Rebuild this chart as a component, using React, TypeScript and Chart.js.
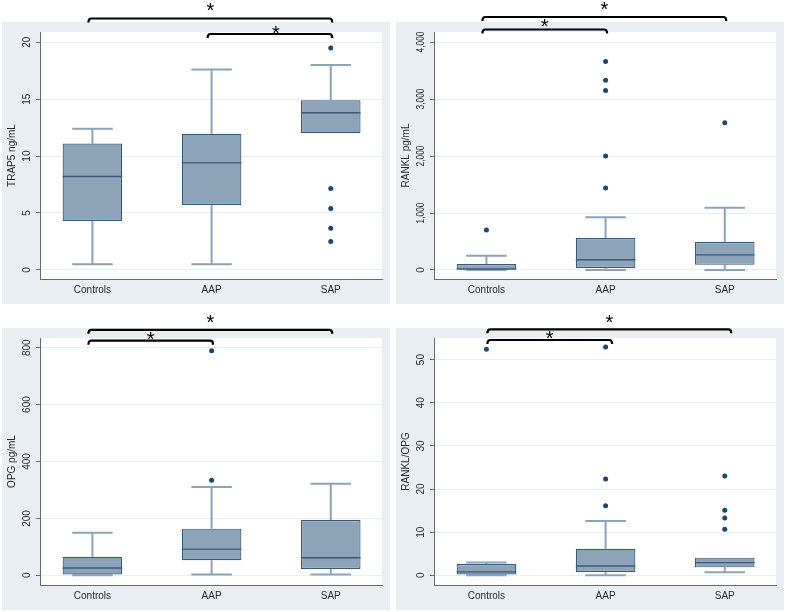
import React, { useEffect, useRef } from 'react';
import { Chart, registerables } from 'chart.js';

Chart.register(...registerables);

// ---------- data ----------
const CATEGORIES = ['Controls', 'AAP', 'SAP'];

// TRAP5 ng/mL
const TRAP5_LOW = [0.5, 0.5, 12.0];
const TRAP5_Q1 = [4.3, 5.7, 12.0];
const TRAP5_MEDIAN = [8.2, 9.4, 13.8];
const TRAP5_Q3 = [11.1, 11.95, 14.9];
const TRAP5_HIGH = [12.4, 17.6, 18.0];
const TRAP5_OUTLIERS = [[], [], [19.5, 7.15, 5.4, 3.65, 2.5]];
const TRAP5_TICKS = [0, 5, 10, 15, 20];
const TRAP5_TICK_LABELS = ['0', '5', '10', '15', '20'];

// RANKL pg/mL
const RANKL_LOW = [0, 0, 0];
const RANKL_Q1 = [5, 35, 90];
const RANKL_MEDIAN = [20, 180, 265];
const RANKL_Q3 = [105, 560, 490];
const RANKL_HIGH = [250, 925, 1090];
const RANKL_OUTLIERS = [[700], [3660, 3330, 3150, 2000, 1440], [2585]];
const RANKL_TICKS = [0, 1000, 2000, 3000, 4000];
const RANKL_TICK_LABELS = ['0', '1,000', '2,000', '3,000', '4,000'];

// OPG pg/mL
const OPG_LOW = [0, 3, 3];
const OPG_Q1 = [3, 53, 22];
const OPG_MEDIAN = [26, 92, 62];
const OPG_Q3 = [65, 164, 194];
const OPG_HIGH = [150, 310, 322];
const OPG_OUTLIERS = [[], [789, 334], []];
const OPG_TICKS = [0, 200, 400, 600, 800];
const OPG_TICK_LABELS = ['0', '200', '400', '600', '800'];

// RANKL/OPG
const RATIO_LOW = [0, 0, 0.7];
const RATIO_Q1 = [0.2, 0.8, 1.85];
const RATIO_MEDIAN = [0.8, 2.15, 2.95];
const RATIO_Q3 = [2.6, 6.15, 4.1];
const RATIO_HIGH = [3.0, 12.6, 4.1];
const RATIO_OUTLIERS = [[52.4], [52.9, 22.3, 16.1], [23.0, 15.1, 13.3, 10.7]];
const RATIO_TICKS = [0, 10, 20, 30, 40, 50];
const RATIO_TICK_LABELS = ['0', '10', '20', '30', '40', '50'];

// significance pairs (category indices)
const TRAP5_SIG = [[0, 2], [1, 2]];
const RANKL_SIG = [[0, 2], [0, 1]];
const OPG_SIG = [[0, 2], [0, 1]];
const RATIO_SIG = [[0, 2], [0, 1]];

// ---------- styles ----------
const FONT = "'Liberation Sans', Arial, Helvetica, sans-serif";
const TEXT = '#2a2a2a';
const BG = '#e8eef2';
const GRID = '#e8eff2';
const AXIS = '#6a6a6a';
const BOX_FILL = '#8ca3b8';
const BOX_EDGE = '#3a5a7c';
const WHISKER = '#8ca3b8';
const DOT = '#1d4670';

type PanelDef = {
  title: string;
  low: number[]; q1: number[]; med: number[]; q3: number[]; high: number[];
  outliers: number[][];
  ticks: number[]; tickLabels: string[];
  yMin: number; yMax: number;
  sig: number[][];
  // layout of the bracket annotations: [lineY, starY, starDx]
  bracketLayout: number[][];
  bracketShift: number;
  left: number; top: number; w: number;
};

const PANELS: PanelDef[] = [
  {
    title: 'TRAP5 ng/mL', low: TRAP5_LOW, q1: TRAP5_Q1, med: TRAP5_MEDIAN, q3: TRAP5_Q3, high: TRAP5_HIGH,
    outliers: TRAP5_OUTLIERS, ticks: TRAP5_TICKS, tickLabels: TRAP5_TICK_LABELS, yMin: -0.8, yMax: 20.9,
    sig: TRAP5_SIG, bracketLayout: [[18.5, 5, 0], [34, 28, 6]], bracketShift: 0,
    left: 0, top: 0, w: 394,
  },
  {
    title: 'RANKL pg/mL', low: RANKL_LOW, q1: RANKL_Q1, med: RANKL_MEDIAN, q3: RANKL_Q3, high: RANKL_HIGH,
    outliers: RANKL_OUTLIERS, ticks: RANKL_TICKS, tickLabels: RANKL_TICK_LABELS, yMin: -158, yMax: 4176,
    sig: RANKL_SIG, bracketLayout: [[17, 4, 0], [29.5, 21.7, 0]], bracketShift: 0,
    left: 394, top: 0, w: 393,
  },
  {
    title: 'OPG pg/mL', low: OPG_LOW, q1: OPG_Q1, med: OPG_MEDIAN, q3: OPG_Q3, high: OPG_HIGH,
    outliers: OPG_OUTLIERS, ticks: OPG_TICKS, tickLabels: OPG_TICK_LABELS, yMin: -34, yMax: 834,
    sig: OPG_SIG, bracketLayout: [[23.8, 11.7, 0], [34.7, 28.3, 0]], bracketShift: 0,
    left: 0, top: 306, w: 394,
  },
  {
    title: 'RANKL/OPG', low: RATIO_LOW, q1: RATIO_Q1, med: RATIO_MEDIAN, q3: RATIO_Q3, high: RATIO_HIGH,
    outliers: RATIO_OUTLIERS, ticks: RATIO_TICKS, tickLabels: RATIO_TICK_LABELS, yMin: -2.24, yMax: 55.0,
    sig: RATIO_SIG, bracketLayout: [[23.3, 11.7, 0], [34, 27.3, 0]], bracketShift: 5,
    left: 394, top: 306, w: 393,
  },
];

function makePlugin(p: PanelDef) {
  return {
    id: 'boxParts',
    beforeDraw(chart: any) {
      const { ctx, chartArea } = chart;
      ctx.save();
      ctx.fillStyle = BG;
      ctx.fillRect(2, 22, 388, 282);
      ctx.fillStyle = '#ffffff';
      ctx.fillRect(chartArea.left, chartArea.top, chartArea.right - chartArea.left, chartArea.bottom - chartArea.top);
      ctx.restore();
    },
    beforeDatasetsDraw(chart: any) {
      const { ctx } = chart;
      const xs = chart.scales.x;
      const ys = chart.scales.y;
      const meta = chart.getDatasetMeta(0);
      ctx.save();
      ctx.strokeStyle = WHISKER;
      ctx.lineWidth = 2;
      CATEGORIES.forEach((_, i) => {
        const el = meta.data[i];
        const cx = xs.getPixelForValue(i);
        const half = el ? el.width * 0.34 : 20;
        const segs: number[][] = [];
        if (p.high[i] > p.q3[i]) segs.push([p.q3[i], p.high[i]]);
        if (p.low[i] < p.q1[i]) segs.push([p.q1[i], p.low[i]]);
        segs.forEach(([from, to]) => {
          const y1 = ys.getPixelForValue(from);
          const y2 = ys.getPixelForValue(to);
          ctx.beginPath();
          ctx.moveTo(cx, y1);
          ctx.lineTo(cx, y2);
          ctx.moveTo(cx - half, y2);
          ctx.lineTo(cx + half, y2);
          ctx.stroke();
        });
      });
      ctx.restore();
    },
    afterDatasetsDraw(chart: any) {
      const { ctx } = chart;
      const ys = chart.scales.y;
      const meta = chart.getDatasetMeta(0);
      ctx.save();
      ctx.strokeStyle = BOX_EDGE;
      ctx.lineWidth = 1.4;
      CATEGORIES.forEach((_, i) => {
        const el = meta.data[i];
        if (!el) return;
        const y = ys.getPixelForValue(p.med[i]);
        ctx.beginPath();
        ctx.moveTo(el.x - el.width / 2, y);
        ctx.lineTo(el.x + el.width / 2, y);
        ctx.stroke();
      });
      ctx.restore();
    },
    afterDraw(chart: any) {
      const { ctx } = chart;
      const xs = chart.scales.x;
      const ys = chart.scales.y;
      ctx.save();
      // y tick labels, rotated
      ctx.fillStyle = TEXT;
      ctx.font = `10px ${FONT}`;
      ctx.textAlign = 'center';
      ctx.textBaseline = 'middle';
      ys.ticks.forEach((t: any, k: number) => {
        const py = ys.getPixelForValue(t.value);
        ctx.save();
        ctx.translate(27.5, py);
        ctx.rotate(-Math.PI / 2);
        ctx.fillText(p.tickLabels[k] ?? String(t.value), 0, 0, 21);
        ctx.restore();
      });
      // significance brackets
      ctx.strokeStyle = '#000';
      ctx.fillStyle = '#000';
      ctx.lineWidth = 2.2;
      ctx.lineJoin = 'round';
      p.sig.forEach(([a, b], k) => {
        const [lineY, starY, starDx] = p.bracketLayout[k];
        const x1 = xs.getPixelForValue(a) - 4 + p.bracketShift;
        const x2 = xs.getPixelForValue(b) + 1.5 + p.bracketShift;
        ctx.beginPath();
        ctx.moveTo(x1, lineY + 4);
        ctx.quadraticCurveTo(x1, lineY, x1 + 3, lineY);
        ctx.lineTo(x2 - 3, lineY);
        ctx.quadraticCurveTo(x2, lineY, x2, lineY + 4);
        ctx.stroke();
        ctx.font = `20px ${FONT}`;
        ctx.textAlign = 'center';
        ctx.textBaseline = 'alphabetic';
        ctx.fillText('*', (x1 + x2) / 2 + starDx, starY + 11.5);
      });
      ctx.restore();
    },
  };
}

function Panel({ p }: { p: PanelDef }) {
  const ref = useRef<HTMLCanvasElement>(null);
  useEffect(() => {
    const canvas = ref.current!;
    const boxData = CATEGORIES.map((_, i) => ({ x: i, y: [p.q1[i], p.q3[i]] }));
    const outData: { x: number; y: number }[] = [];
    p.outliers.forEach((vals, i) => vals.forEach((v) => outData.push({ x: i, y: v })));
    const chart = new Chart(canvas, {
      type: 'bar',
      data: {
        datasets: [
          {
            type: 'bar',
            data: boxData as any,
            backgroundColor: BOX_FILL,
            borderColor: BOX_EDGE,
            borderWidth: 1.2,
            borderSkipped: false,
            barPercentage: 0.5,
            categoryPercentage: 1,
            order: 2,
          } as any,
          {
            type: 'scatter',
            data: outData,
            pointRadius: 2.5,
            pointBackgroundColor: DOT,
            pointBorderWidth: 0,
            backgroundColor: DOT,
            borderColor: DOT,
            order: 1,
            clip: false,
          } as any,
        ],
      },
      options: {
        animation: false,
        responsive: false,
        devicePixelRatio: 1,
        events: [],
        layout: { padding: { top: 32, left: 0, right: p.w - 382, bottom: 0 } },
        plugins: { legend: { display: false }, tooltip: { enabled: false } },
        scales: {
          x: {
            type: 'linear',
            offset: false,
            min: -0.44,
            max: 2.43,
            afterBuildTicks: (s: any) => { s.ticks = CATEGORIES.map((_, i) => ({ value: i })); },
            afterFit: (s: any) => { s.height = 27; },
            ticks: {
              callback: (_v: any, idx: number) => CATEGORIES[idx],
              autoSkip: false,
              maxRotation: 0,
              minRotation: 0,
              padding: 5,
              color: TEXT,
              font: { family: FONT, size: 10 },
            },
            grid: { display: false, drawTicks: false, offset: false },
            border: { display: true, color: AXIS, width: 1 },
          },
          y: {
            type: 'linear',
            min: p.yMin,
            max: p.yMax,
            afterBuildTicks: (s: any) => { s.ticks = p.ticks.map((v) => ({ value: v })); },
            afterFit: (s: any) => { s.width = 40; },
            ticks: { display: false },
            grid: { color: GRID, lineWidth: 1, drawTicks: true, tickLength: 4, tickColor: AXIS },
            border: { display: true, color: AXIS, width: 1 },
            title: {
              display: true,
              text: p.title,
              color: TEXT,
              font: { family: FONT, size: 10 },
              padding: { top: 6, bottom: 0 },
            },
          },
        },
      } as any,
      plugins: [makePlugin(p) as any],
    });
    return () => chart.destroy();
  }, [p]);
  return (
    <canvas
      ref={ref}
      width={p.w}
      height={306}
      style={{ position: 'absolute', left: p.left, top: p.top, width: p.w, height: 306 }}
    />
  );
}

export default function App() {
  return (
    <div style={{ position: 'absolute', left: 0, top: 0, width: 787, height: 612, background: '#ffffff' }}>
      {PANELS.map((p, i) => (
        <Panel key={i} p={p} />
      ))}
    </div>
  );
}
